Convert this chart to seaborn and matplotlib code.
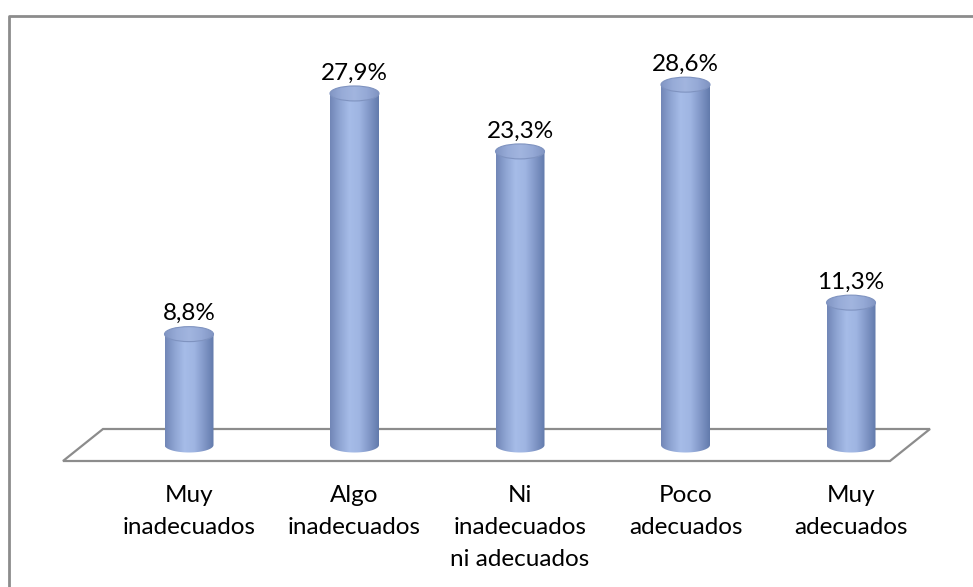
import numpy as np
import matplotlib
matplotlib.use("Agg")
import matplotlib.pyplot as plt
import seaborn as sns
from matplotlib.patches import Ellipse, Polygon
from matplotlib.lines import Line2D
from matplotlib.colors import LinearSegmentedColormap

# Survey results
categories = ["Muy\ninadecuados", "Algo\ninadecuados", "Ni\ninadecuados\nni adecuados",
              "Poco\nadecuados", "Muy\nadecuados"]
values = [8.8, 27.9, 23.3, 28.6, 11.3]
value_labels = ["8,8%", "27,9%", "23,3%", "28,6%", "11,3%"]

W, H = 973, 587
BASE_PX = 445.0        # pixel row of the bar base
PX_PER_UNIT = 12.6     # pixels per percentage point
X0_PX, STEP_PX = 189.0, 165.5
BAR_W = 49 / STEP_PX
ELL_H = 15 / PX_PER_UNIT

sns.set_theme(style="white")
plt.rcParams["font.family"] = ["Lato", "DejaVu Sans"]
FS = 17.5

fig = plt.figure(figsize=(W / 100, H / 100), dpi=100)
ax = fig.add_axes([0, 0, 1, 1])
sns.barplot(x=list(range(len(values))), y=values, ax=ax, width=BAR_W,
            color="#95abd8", saturation=1, zorder=3)
ax.set_xlim(-X0_PX / STEP_PX, (W - X0_PX) / STEP_PX)
ax.set_ylim(-(H - BASE_PX) / PX_PER_UNIT, BASE_PX / PX_PER_UNIT)
ax.axis("off")


def py(p):
    """figure pixel row -> data y"""
    return (BASE_PX - p) / PX_PER_UNIT


# floor plane
fy = lambda p: 1 - p / H
floor = Polygon([(103 / W, fy(429)), (930 / W, fy(429)), (890 / W, fy(461)), (63 / W, fy(461))],
                closed=True, transform=fig.transFigure, facecolor="white",
                edgecolor="#8c8c8c", lw=1.6, zorder=1)
ax.add_artist(floor)

# chart frame (top and left edges visible)
fig.add_artist(Line2D([8.5 / W, 8.5 / W, 1.0], [0.0, fy(15.5), fy(15.5)],
                      transform=fig.transFigure, color="#8c8c8c", lw=2.0))

body_cmap = LinearSegmentedColormap.from_list(
    "body", ["#7186b6", "#8fa5d3", "#a6bce8", "#9fb5e2", "#8298c8", "#627aab"])
top_cmap = LinearSegmentedColormap.from_list(
    "top", ["#8296c4", "#98acd8", "#a2b5df", "#95a9d6", "#8094c2"])
grad = np.linspace(0, 1, 256).reshape(1, -1)

for bar, lab in zip(ax.patches, value_labels):
    x0 = bar.get_x()
    w = bar.get_width()
    h = bar.get_height()
    cx = x0 + w / 2
    # body outline: straight sides + rounded bottom
    t = np.linspace(np.pi, 2 * np.pi, 60)
    bottom = np.column_stack([cx + w / 2 * np.cos(t), ELL_H / 2 * np.sin(t)])
    pts = np.vstack([[x0, h], bottom, [x0 + w, h]])
    body = Polygon(pts, closed=True, facecolor="none", edgecolor="none", zorder=3)
    ax.add_patch(body)
    im = ax.imshow(grad, cmap=body_cmap, extent=[x0, x0 + w, -ELL_H, h],
                   aspect="auto", zorder=3, interpolation="bicubic")
    im.set_clip_path(body)
    bar.set_visible(False)
    # top cap
    cap = Ellipse((cx, h), w, ELL_H, facecolor="none", edgecolor="none", zorder=4)
    ax.add_patch(cap)
    im2 = ax.imshow(grad, cmap=top_cmap, extent=[x0, x0 + w, h - ELL_H / 2, h + ELL_H / 2],
                    aspect="auto", zorder=4, interpolation="bicubic")
    im2.set_clip_path(cap)
    ax.add_patch(Ellipse((cx, h), w, ELL_H, facecolor="none", edgecolor="#7f93c0",
                         lw=0.8, zorder=5))
    ax.annotate(lab, (cx, h), xytext=(0, 14 * 0.72), textcoords="offset points",
                ha="center", va="baseline", fontsize=FS, color="black", zorder=6)

# category labels
for i, cat in enumerate(categories):
    for j, line in enumerate(cat.split("\n")):
        ax.text(i, py(502 + 32 * j), line, ha="center", va="baseline",
                fontsize=FS, color="black")

ax.set_xlim(-X0_PX / STEP_PX, (W - X0_PX) / STEP_PX)
ax.set_ylim(-(H - BASE_PX) / PX_PER_UNIT, BASE_PX / PX_PER_UNIT)
fig.savefig("out.png", dpi=100, facecolor="white")
